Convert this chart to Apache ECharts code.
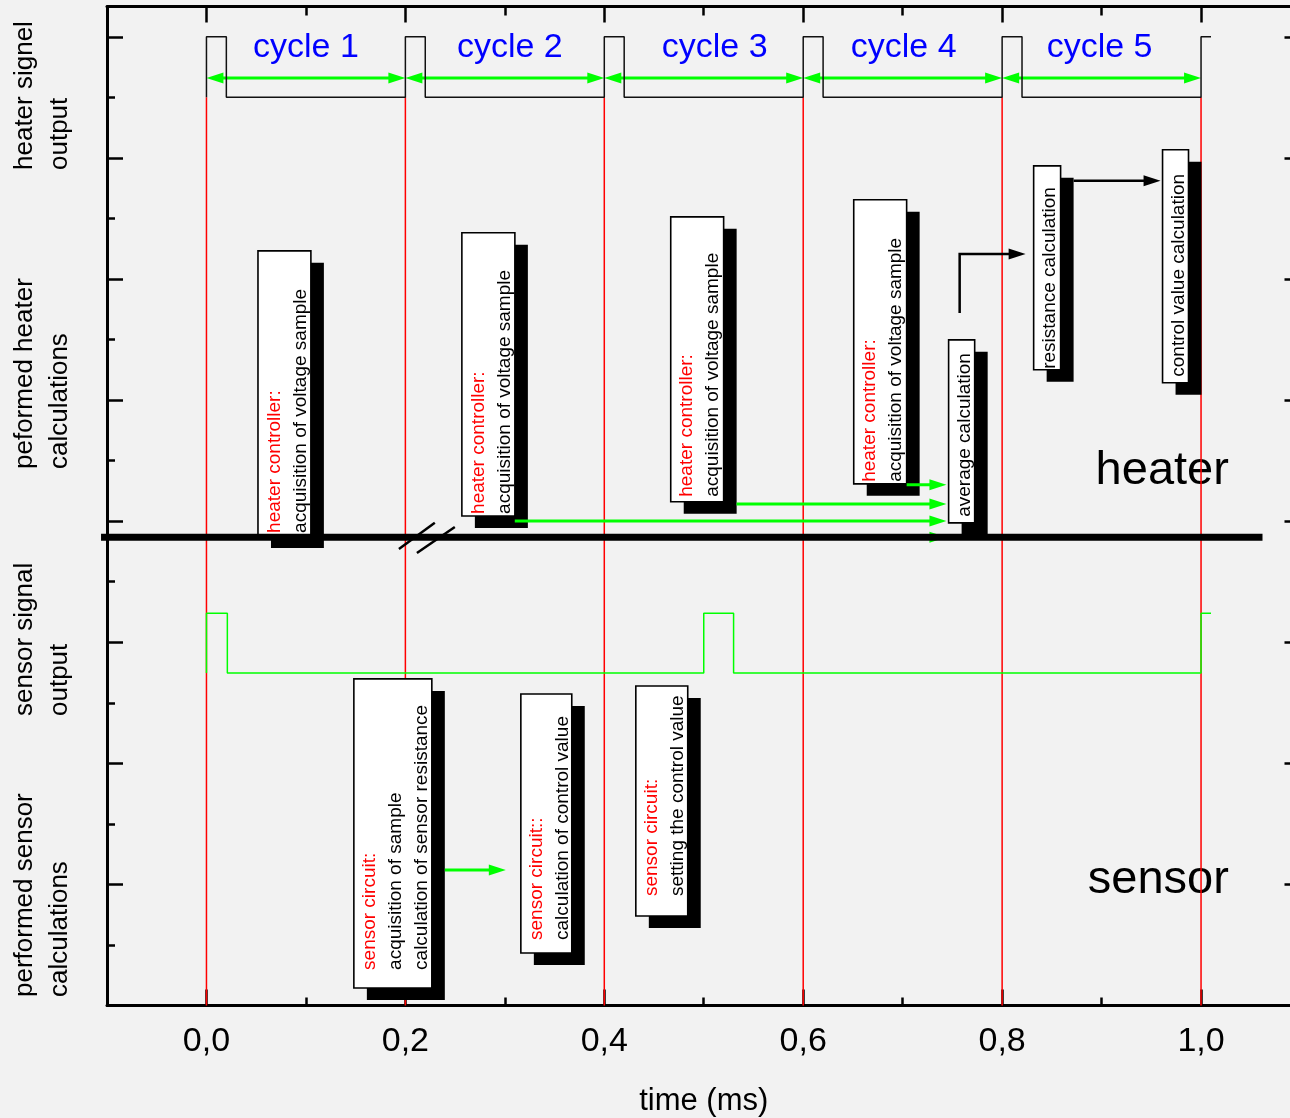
<!DOCTYPE html>
<html>
<head>
<meta charset="utf-8">
<title>Heater / sensor timing</title>
<script src="https://cdn.jsdelivr.net/npm/echarts@6.0.0/dist/echarts.min.js"></script>
<style>
html, body { margin: 0; padding: 0; background: #f2f2f2; }
#chart { width: 1290px; height: 1118px; }
</style>
</head>
<body>
<div id="chart"></div>
<script>
// ---------- axes ----------
const timeMajorTicks = [0.0, 0.2, 0.4, 0.6, 0.8, 1.0];
const timeMinorTicks = [0.1, 0.3, 0.5, 0.7, 0.9];

// ---------- cycles ----------
const cycleBounds = [0.0, 0.2, 0.4, 0.6, 0.8, 1.0];
const cycleNames = ['cycle 1', 'cycle 2', 'cycle 3', 'cycle 4', 'cycle 5'];
const cycleNameTime = [0.100, 0.305, 0.511, 0.701, 0.898];
const cycleNameLevel = 7.91;
const cycleArrowLevel = 7.66;
const cycleLineTop = 7.5;

// ---------- heater PWM output ----------
const heaterSignalTime  = [0, 0, 0.02, 0.02, 0.2, 0.2, 0.22, 0.22, 0.4, 0.4, 0.42, 0.42, 0.6, 0.6, 0.62, 0.62, 0.8, 0.8, 0.82, 0.82, 1.0, 1.0, 1.01];
const heaterSignalLevel = [7.5, 8, 8, 7.5, 7.5, 8, 8, 7.5, 7.5, 8, 8, 7.5, 7.5, 8, 8, 7.5, 7.5, 8, 8, 7.5, 7.5, 8, 8];

// ---------- sensor output ----------
const sensorSignalTime  = [0, 0, 0.021, 0.021, 0.5, 0.5, 0.53, 0.53, 1.0, 1.0, 1.01];
const sensorSignalLevel = [2.745, 3.24, 3.24, 2.745, 2.745, 3.24, 3.24, 2.745, 2.745, 3.24, 3.24];

// ---------- heater calculation blocks: [start ms, end ms, top, bottom] ----------
const heaterBlocks = [
  [0.0518, 0.1050, 6.232, 3.878],
  [0.2568, 0.3101, 6.381, 4.043],
  [0.4668, 0.5200, 6.513, 4.160],
  [0.6508, 0.7040, 6.654, 4.308],
  [0.7462, 0.7724, 5.497, 3.986],
  [0.8317, 0.8588, 6.934, 5.250],
  [0.9613, 0.9874, 7.067, 5.143]
];
const heaterBlockTitles = ['heater controller:', 'heater controller:', 'heater controller:', 'heater controller:', '', '', ''];
const heaterBlockTasks = [
  ['acquisition of voltage sample'],
  ['acquisition of voltage sample'],
  ['acquisition of voltage sample'],
  ['acquisition of voltage sample'],
  ['average calculation'],
  ['resistance calculation'],
  ['control value calculation']
];

// ---------- sensor calculation blocks ----------
const sensorBlocks = [
  [0.1482, 0.2266, 2.697, 0.145],
  [0.3161, 0.3673, 2.573, 0.434],
  [0.4317, 0.4839, 2.639, 0.739]
];
const sensorBlockTitles = ['sensor circuit:', 'sensor circuit::', 'sensor circuit:'];
const sensorBlockTasks = [
  ['acquisition of sample', 'calculation of sensor resistance'],
  ['calculation of control value'],
  ['setting the control value']
];

// ---------- data flow arrows (polylines, head at last point) ----------
const greenFlows = [
  [[0.105, 3.866], [0.744, 3.866]],
  [[0.310, 4.002], [0.744, 4.002]],
  [[0.533, 4.142], [0.744, 4.142]],
  [[0.704, 4.300], [0.744, 4.300]],
  [[0.2397, 1.119], [0.301, 1.119]]
];
const blackFlows = [
  [[0.7573, 5.719], [0.7573, 6.207], [0.8236, 6.207]],
  [[0.8719, 6.810], [0.9593, 6.810]]
];

// ---------- divider between heater and sensor part ----------
const dividerLine = [[-0.106, 3.866], [1.0618, 3.866]];
const breakMarks = [
  [[0.1935, 3.770], [0.2296, 3.986]],
  [[0.2116, 3.737], [0.2497, 3.952]]
];

// ---------- section names ----------
const sectionNames = ['heater', 'sensor'];
const sectionNameTime = [1.028, 1.028];
const sectionNameLevel = [4.41, 1.04];

// ---------- row titles ----------
const rowTitles = ['heater signel\noutput', 'peformed heater\ncalculations', 'sensor signal\noutput', 'performed sensor\ncalculations'];

// ================= drawing =================
const FONT = '"Liberation Sans", Arial, Helvetica, sans-serif';
const RED = '#ff0000', GREEN = '#00ff00', BLUE = '#0000ff', BLACK = '#000000';
const SHADOW_DX = 13, SHADOW_DY = 12;
const heaterTextPad = [3, 2, 5, 2, 6, 1, 6];
const sensorTextPad = [18, 13, 20];
const rowTitleY = [170, 469, 716, 997];

// tick labels use a condensed face when one is installed
function hasFont(name) {
  const ctx = document.createElement('canvas').getContext('2d');
  const sample = '0,0 0,2 0,4 time';
  ctx.font = '40px monospace';
  const base = ctx.measureText(sample).width;
  ctx.font = '40px "' + name + '", monospace';
  return Math.abs(ctx.measureText(sample).width - base) > 0.5;
}
const NARROW = hasFont('Liberation Sans Narrow');
const TICK_FONT = NARROW ? '"Liberation Sans Narrow", ' + FONT : FONT;
const TICK_SIZE = NARROW ? 40 : 34;
const TICK_MARGIN = NARROW ? 15 : 19;

const GRID = { left: 107, top: 6.5, width: 1193.5, height: 999, outerBoundsMode: 'none', containLabel: false };
const X_RANGE = { min: -0.1, max: 1.1 };
const Y_RANGE = { min: 0, max: 8.25 };

function zip(a, b) { return a.map((v, i) => [v, b[i]]); }

function head(tip, from, color, len, halfW) {
  const dx = tip[0] - from[0], dy = tip[1] - from[1];
  const d = Math.hypot(dx, dy) || 1;
  const ux = dx / d, uy = dy / d;
  const bx = tip[0] - ux * len, by = tip[1] - uy * len;
  return {
    type: 'polygon',
    shape: { points: [tip, [bx - uy * halfW, by + ux * halfW], [bx + uy * halfW, by - ux * halfW]] },
    style: { fill: color }
  };
}

function shorten(tip, from, by) {
  const dx = tip[0] - from[0], dy = tip[1] - from[1];
  const d = Math.hypot(dx, dy) || 1;
  return [tip[0] - dx / d * by, tip[1] - dy / d * by];
}

function flowRenderer(paths, color, width, heads) {
  return function (params, api) {
    const pts = paths[params.dataIndex].map(p => api.coord(p));
    const n = pts.length;
    const line = pts.slice();
    const children = [];
    line[n - 1] = shorten(pts[n - 1], pts[n - 2], 8);
    if (heads === 2) line[0] = shorten(pts[0], pts[1], 8);
    children.push({ type: 'polyline', shape: { points: line }, style: { stroke: color, lineWidth: width, fill: null } });
    children.push(head(pts[n - 1], pts[n - 2], color, 17, 5.5));
    if (heads === 2) children.push(head(pts[0], pts[1], color, 17, 5.5));
    return { type: 'group', children: children };
  };
}

function blockRenderer(blocks, titles, tasks, pads) {
  return function (params, api) {
    const i = params.dataIndex;
    const b = blocks[i];
    const tl = api.coord([b[0], b[2]]);
    const br = api.coord([b[1], b[3]]);
    const w = br[0] - tl[0], h = br[1] - tl[1];
    const lines = [];
    if (titles[i]) lines.push('{r|' + titles[i] + '}');
    tasks[i].forEach(t => lines.push('{k|' + t + '}'));
    return {
      type: 'group',
      children: [
        { type: 'rect', shape: { x: tl[0] + SHADOW_DX, y: tl[1] + SHADOW_DY, width: w, height: h }, style: { fill: BLACK } },
        { type: 'rect', shape: { x: tl[0], y: tl[1], width: w, height: h }, style: { fill: '#ffffff', stroke: BLACK, lineWidth: 1.6 } },
        {
          type: 'text',
          x: (tl[0] + br[0]) / 2 + 3,
          y: br[1] - pads[i],
          rotation: Math.PI / 2,
          style: {
            text: lines.join('\n'),
            align: 'left',
            verticalAlign: 'middle',
            rich: {
              r: { fill: RED, fontSize: 19, fontFamily: FONT, lineHeight: 26 },
              k: { fill: BLACK, fontSize: 19, fontFamily: FONT, lineHeight: 26 }
            }
          }
        }
      ]
    };
  };
}

function segmentRenderer(segs, color, width) {
  return function (params, api) {
    const s = segs[params.dataIndex];
    const a = api.coord(s[0]), b = api.coord(s[1]);
    return { type: 'line', shape: { x1: a[0], y1: a[1], x2: b[0], y2: b[1] }, style: { stroke: color, lineWidth: width } };
  };
}

const redLines = cycleBounds.map(t => [[t, 0], [t, cycleLineTop]]);
const cycleArrows = cycleNames.map((_, i) => [[cycleBounds[i + 1], cycleArrowLevel], [cycleBounds[i], cycleArrowLevel]]);

const tickLabel = v => Number(v).toFixed(1).replace('.', ',');

const option = {
  backgroundColor: '#f2f2f2',
  animation: false,
  grid: [
    Object.assign({ show: false }, GRID),
    Object.assign({ show: false }, GRID)
  ],
  xAxis: [
    {
      gridIndex: 0, type: 'value', position: 'bottom', min: X_RANGE.min, max: X_RANGE.max, interval: 0.1,
      axisLine: { show: true, onZero: false, lineStyle: { color: BLACK, width: 3 } },
      axisTick: { show: true, inside: true, length: 16, customValues: timeMajorTicks, lineStyle: { color: BLACK, width: 2.5 } },
      axisLabel: { show: true, customValues: timeMajorTicks, formatter: tickLabel, margin: TICK_MARGIN, color: BLACK, fontSize: TICK_SIZE, fontFamily: TICK_FONT },
      splitLine: { show: false },
      name: 'time (ms)', nameLocation: 'middle', nameGap: 80,
      nameTextStyle: { color: BLACK, fontSize: 31, fontFamily: FONT }
    },
    {
      gridIndex: 0, type: 'value', position: 'top', min: X_RANGE.min, max: X_RANGE.max, interval: 0.1,
      axisLine: { show: true, onZero: false, lineStyle: { color: BLACK, width: 3 } },
      axisTick: { show: true, inside: true, length: 16, customValues: timeMajorTicks, lineStyle: { color: BLACK, width: 2.5 } },
      axisLabel: { show: false }, splitLine: { show: false }
    },
    {
      gridIndex: 1, type: 'value', position: 'bottom', min: X_RANGE.min, max: X_RANGE.max, interval: 0.1,
      axisLine: { show: false },
      axisTick: { show: true, inside: true, length: 8, customValues: timeMinorTicks, lineStyle: { color: BLACK, width: 2.5 } },
      axisLabel: { show: false }, splitLine: { show: false }
    },
    {
      gridIndex: 1, type: 'value', position: 'top', min: X_RANGE.min, max: X_RANGE.max, interval: 0.1,
      axisLine: { show: false },
      axisTick: { show: true, inside: true, length: 9, customValues: timeMinorTicks, lineStyle: { color: BLACK, width: 2.5 } },
      axisLabel: { show: false }, splitLine: { show: false }
    }
  ],
  yAxis: [
    {
      gridIndex: 0, type: 'value', position: 'left', min: Y_RANGE.min, max: Y_RANGE.max, interval: 1,
      axisLine: { show: true, onZero: false, lineStyle: { color: BLACK, width: 3 } },
      axisTick: { show: true, inside: true, length: 16, lineStyle: { color: BLACK, width: 2.5 } },
      minorTick: { show: true, splitNumber: 2, length: 8, lineStyle: { color: BLACK, width: 2.5 } },
      axisLabel: { show: false }, splitLine: { show: false }, minorSplitLine: { show: false }
    },
    {
      gridIndex: 0, type: 'value', position: 'right', min: Y_RANGE.min, max: Y_RANGE.max, interval: 1,
      axisLine: { show: true, onZero: false, lineStyle: { color: BLACK, width: 3 } },
      axisTick: { show: true, inside: true, length: 16, lineStyle: { color: BLACK, width: 2.5 } },
      minorTick: { show: true, splitNumber: 2, length: 8, lineStyle: { color: BLACK, width: 2.5 } },
      axisLabel: { show: false }, splitLine: { show: false }, minorSplitLine: { show: false }
    },
    { gridIndex: 1, type: 'value', show: false, min: Y_RANGE.min, max: Y_RANGE.max }
  ],
  graphic: rowTitles.map((t, i) => ({
    type: 'text',
    x: 42.5,
    y: rowTitleY[i],
    rotation: Math.PI / 2,
    z: 10,
    style: { text: t, fill: BLACK, font: '26px ' + FONT, align: 'left', verticalAlign: 'middle', lineHeight: 35 }
  })),
  series: [
    // section names
    {
      type: 'custom', xAxisIndex: 0, yAxisIndex: 0, z: 1, silent: true,
      data: zip(sectionNameTime, sectionNameLevel),
      renderItem: function (params, api) {
        const p = api.coord([api.value(0), api.value(1)]);
        return { type: 'text', x: p[0], y: p[1], style: { text: sectionNames[params.dataIndex], fill: BLACK, font: '47px ' + FONT, align: 'right', verticalAlign: 'middle' } };
      }
    },
    // cycle boundaries
    {
      type: 'custom', xAxisIndex: 0, yAxisIndex: 0, z: 2, silent: true,
      data: redLines.map(s => s[0]),
      renderItem: segmentRenderer(redLines, RED, 1.5)
    },
    // heater output
    {
      type: 'line', xAxisIndex: 0, yAxisIndex: 0, z: 3, silent: true,
      data: zip(heaterSignalTime, heaterSignalLevel),
      showSymbol: false, symbol: 'none',
      lineStyle: { color: '#111111', width: 1.5 }
    },
    // sensor output
    {
      type: 'line', xAxisIndex: 0, yAxisIndex: 0, z: 3, silent: true,
      data: zip(sensorSignalTime, sensorSignalLevel),
      showSymbol: false, symbol: 'none',
      lineStyle: { color: GREEN, width: 1.5 }
    },
    // cycle arrows
    {
      type: 'custom', xAxisIndex: 0, yAxisIndex: 0, z: 3, silent: true,
      data: cycleArrows.map(a => a[0]),
      renderItem: flowRenderer(cycleArrows, GREEN, 3, 2)
    },
    // cycle names
    {
      type: 'custom', xAxisIndex: 0, yAxisIndex: 0, z: 3, silent: true,
      data: cycleNameTime.map(t => [t, cycleNameLevel]),
      renderItem: function (params, api) {
        const p = api.coord([api.value(0), api.value(1)]);
        return { type: 'text', x: p[0], y: p[1], style: { text: cycleNames[params.dataIndex], fill: BLUE, font: '34px ' + FONT, align: 'center', verticalAlign: 'middle' } };
      }
    },
    // heater blocks
    {
      type: 'custom', xAxisIndex: 0, yAxisIndex: 0, z: 4, silent: true,
      data: heaterBlocks,
      renderItem: blockRenderer(heaterBlocks, heaterBlockTitles, heaterBlockTasks, heaterTextPad)
    },
    // sensor blocks
    {
      type: 'custom', xAxisIndex: 0, yAxisIndex: 0, z: 4, silent: true,
      data: sensorBlocks,
      renderItem: blockRenderer(sensorBlocks, sensorBlockTitles, sensorBlockTasks, sensorTextPad)
    },
    // green flows
    {
      type: 'custom', xAxisIndex: 0, yAxisIndex: 0, z: 5, silent: true,
      data: greenFlows.map(f => f[0]),
      renderItem: flowRenderer(greenFlows, GREEN, 3, 1)
    },
    // black flows
    {
      type: 'custom', xAxisIndex: 0, yAxisIndex: 0, z: 5, silent: true,
      data: blackFlows.map(f => f[0]),
      renderItem: flowRenderer(blackFlows, BLACK, 2.5, 1)
    },
    // divider
    {
      type: 'custom', xAxisIndex: 0, yAxisIndex: 0, z: 6, silent: true,
      data: [dividerLine[0]],
      renderItem: segmentRenderer([dividerLine], BLACK, 7)
    },
    {
      type: 'custom', xAxisIndex: 0, yAxisIndex: 0, z: 6, silent: true,
      data: breakMarks.map(s => s[0]),
      renderItem: segmentRenderer(breakMarks, BLACK, 2.5)
    }
  ]
};

const chart = echarts.init(document.getElementById('chart'), null, { renderer: 'canvas' });
chart.setOption(option);
</script>
</body>
</html>
